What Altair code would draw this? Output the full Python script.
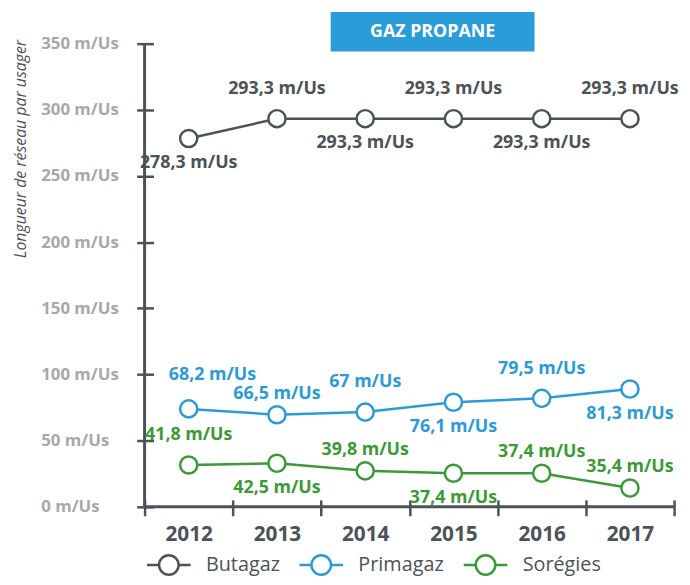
import altair as alt
import pandas as pd

years = ["2012", "2013", "2014", "2015", "2016", "2017"]
series = ["Butagaz", "Primagaz", "Sorégies"]
colors = ["#4b5258", "#2b9bd7", "#3b9a35"]

butagaz_values = [278.3, 293.3, 293.3, 293.3, 293.3, 293.3]
primagaz_values = [74.0, 69.6, 71.6, 79.0, 82.0, 89.0]
soregies_values = [31.6, 32.9, 27.2, 25.4, 25.4, 14.2]

butagaz_labels = ["278,3 m/Us", "293,3 m/Us", "293,3 m/Us", "293,3 m/Us", "293,3 m/Us", "293,3 m/Us"]
primagaz_labels = ["68,2 m/Us", "66,5 m/Us", "67 m/Us", "76,1 m/Us", "79,5 m/Us", "81,3 m/Us"]
soregies_labels = ["41,8 m/Us", "42,5 m/Us", "39,8 m/Us", "37,4 m/Us", "37,4 m/Us", "35,4 m/Us"]

# label placement relative to the marker
butagaz_pos = ["below", "above", "below", "above", "below", "above"]
primagaz_pos = ["above_right", "above_near", "above", "below", "above", "below"]
soregies_pos = ["above", "below", "above_near", "below", "above_near", "above_near"]

y_ticks = [0, 50, 100, 150, 200, 250, 300, 350]
title_text = ["GAZ PROPANE"]
y_title = "Longueur de réseau par usager"

rows = []
for name, vals, labs, poss in [
    ("Butagaz", butagaz_values, butagaz_labels, butagaz_pos),
    ("Primagaz", primagaz_values, primagaz_labels, primagaz_pos),
    ("Sorégies", soregies_values, soregies_labels, soregies_pos),
]:
    for yr, v, l, p in zip(years, vals, labs, poss):
        rows.append({"year": yr, "series": name, "value": v, "label": l, "pos": p})
df = pd.DataFrame(rows)

DARK = "#4b5258"
FONT = "Open Sans"

legend = alt.Legend(
    orient="none", legendX=1, legendY=503, direction="horizontal", title=None,
    symbolType="M-1,0H-0.45M0.45,0H1M-0.45,0A0.45,0.45,0,1,1,0.45,0A0.45,0.45,0,1,1,-0.45,0",
    symbolSize=1936, symbolStrokeWidth=2.5, symbolFillColor="white", symbolOpacity=1,
    labelFont=FONT, labelFontSize=20, labelColor=DARK, labelOffset=14, columnPadding=14,
)

color = alt.Color("series:N", scale=alt.Scale(domain=series, range=colors), legend=legend)
color_map = "{" + ",".join(f"'{s}':'{c}'" for s, c in zip(series, colors)) + "}"

x = alt.X(
    "year:O",
    scale=alt.Scale(type="band", domain=years, paddingInner=0, paddingOuter=0),
    axis=alt.Axis(
        title=None, tickBand="extent", offset=-7, tickSize=16, tickWidth=2.5, tickColor=DARK,
        domain=False, grid=False, labelAngle=0, labelFont=FONT, labelFontSize=21,
        labelFontWeight="bold", labelColor=DARK, labelPadding=8,
    ),
)
y = alt.Y(
    "value:Q",
    scale=alt.Scale(domain=[0, 350]),
    axis=alt.Axis(
        values=y_ticks, labelExpr="datum.value + ' m/Us'", offset=-9, tickSize=17,
        tickWidth=2.5, tickColor=DARK, domain=False, grid=False, labelAlign="left",
        labelBaseline="middle", labelPadding=97, labelFont=FONT, labelFontSize=17,
        labelFontWeight="bold", labelColor="#a9a8a8",
        title=y_title, titleX=-134, titleY=106, titleAngle=270, titleAlign="center",
        titleBaseline="middle", titleFont=FONT, titleFontStyle="italic",
        titleFontWeight="normal", titleFontSize=16, titleColor=DARK,
    ),
)

base = alt.Chart(df).encode(x=x, y=y)

vline = alt.Chart(pd.DataFrame({"a": [0]})).mark_rule(color=DARK, strokeWidth=3).encode(
    x=alt.value(0), y=alt.datum(0), y2=alt.datum(350)
)
hline = alt.Chart(pd.DataFrame({"a": [0]})).mark_rule(color=DARK, strokeWidth=3).encode(
    y=alt.datum(0)
)

lines = base.mark_line(strokeWidth=2.5).encode(color=color)
points = base.mark_point(shape="circle", filled=False, fill="white", fillOpacity=1,
                         opacity=1, size=300, strokeWidth=2.5).encode(color=color)


def labels(pos, dx, dy):
    return base.mark_text(dx=dx, dy=dy, font=FONT, fontSize=18, fontWeight="bold").encode(
        text="label:N", color=alt.Color("tcolor:N", scale=None)
    ).transform_filter(alt.datum.pos == pos).transform_calculate(
        tcolor=color_map + "[datum.series]"
    )


text_above = labels("above", 0, -30)
text_near = labels("above_near", 0, -21)
text_right = labels("above_right", 24, -34)
text_below = labels("below", 0, 25)

tdf = pd.DataFrame({"t": title_text})
title_box = alt.Chart(tdf).mark_rect(color="#2a9cd8").encode(
    x=alt.value(188), x2=alt.value(394), y=alt.value(-32), y2=alt.value(8)
)
title_txt = alt.Chart(tdf).mark_text(color="white", font=FONT, fontSize=18, fontWeight="bold",
                                     align="center", baseline="middle").encode(
    x=alt.value(291), y=alt.value(-12), text="t:N"
)

chart = alt.layer(
    vline, hline, lines, points, text_above, text_near, text_right, text_below,
    title_box, title_txt
).properties(
    width=535, height=468,
    padding={"left": 138, "top": 33, "right": 8, "bottom": 80},
    autosize=alt.AutoSizeParams(type="none"),
).configure_view(stroke=None)

chart.save("out.html", embed_options={"renderer": "svg", "actions": False})
